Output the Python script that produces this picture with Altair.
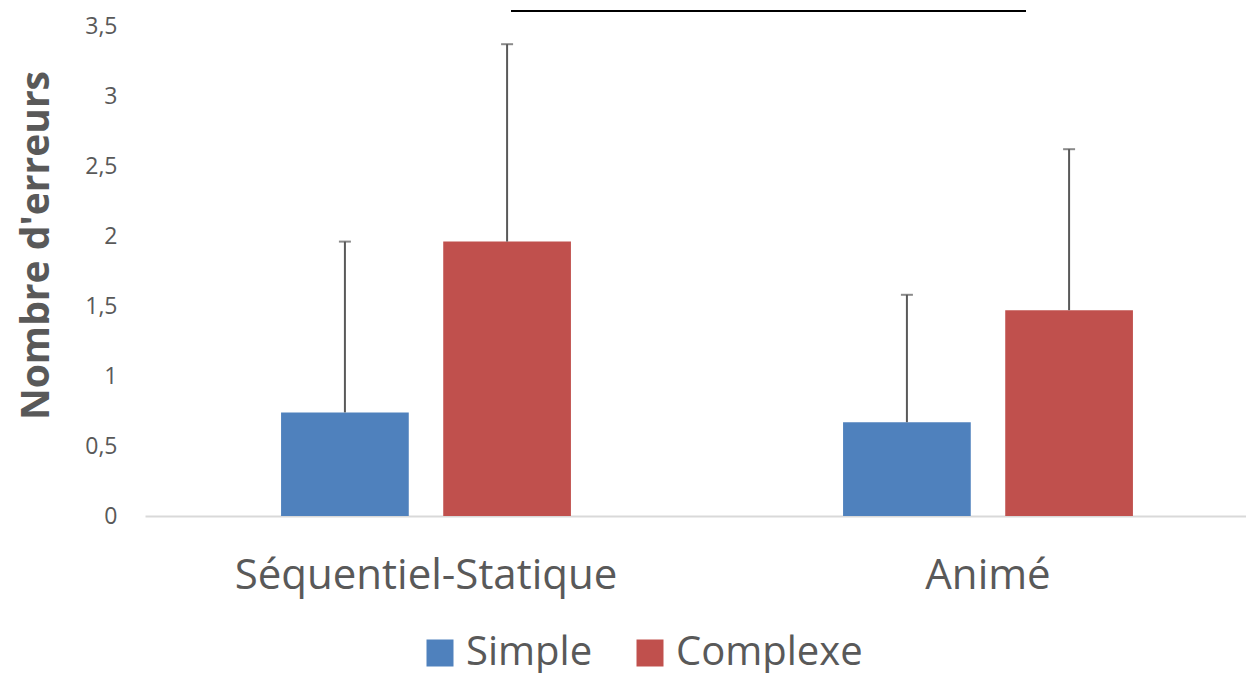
import altair as alt
import pandas as pd

categories = ["Séquentiel-Statique", "Animé"]
series = ["Simple", "Complexe"]
simple_mean = [0.74, 0.67]
complexe_mean = [1.96, 1.47]
simple_err = [1.22, 0.91]
complexe_err = [1.41, 1.15]
y_ticks = [0, 0.5, 1, 1.5, 2, 2.5, 3, 3.5]
sig_level = [3.607]

rows = []
for i, c in enumerate(categories):
    rows.append({"cat": c, "serie": "Simple", "m": simple_mean[i], "hi": simple_mean[i] + simple_err[i]})
    rows.append({"cat": c, "serie": "Complexe", "m": complexe_mean[i], "hi": complexe_mean[i] + complexe_err[i]})
df = pd.DataFrame(rows)

FONT = "Open Sans"
TXT = "#595959"

x = alt.X("cat:N", sort=categories, title=None,
          scale=alt.Scale(range=[0, 1124], paddingInner=0, paddingOuter=0),
          axis=alt.Axis(labelAngle=0, labelFontSize=42, labelFont=FONT, labelColor=TXT,
                        labelPadding=39, labelLimit=0, ticks=False,
                        domainColor="#D9D9D9", domainWidth=2))
xo = alt.XOffset("serie:N", sort=series,
                 scale=alt.Scale(paddingInner=0.2125, paddingOuter=0.839))

base = alt.Chart(df)

bars = base.mark_bar().encode(
    x=x, xOffset=xo,
    y=alt.Y("m:Q", title="Nombre d'erreurs",
            scale=alt.Scale(domain=[0, 3.5], nice=False),
            axis=alt.Axis(values=y_ticks, format=",.1~f", labelFontSize=23, labelFont=FONT,
                          labelColor=TXT, labelPadding=28, ticks=False, domain=False, grid=False,
                          titleFontSize=39, titleFont=FONT, titleFontWeight="bold", titleColor=TXT,
                          titleX=-109, titleY=219, titleAngle=-90, titleBaseline="middle",
                          titleAlign="center")),
    color=alt.Color("serie:N", sort=series,
                    scale=alt.Scale(domain=series, range=["#4F81BD", "#C0504D"]),
                    legend=alt.Legend(title=None, orient="none", direction="horizontal",
                                      legendX=275, legendY=607, symbolType="square",
                                      symbolSize=729, symbolStrokeWidth=0, labelFontSize=40,
                                      labelFont=FONT, labelColor=TXT, labelOffset=6,
                                      columnPadding=37, labelLimit=400)),
)

err = base.mark_rule(color="#595959", strokeWidth=2).encode(
    x=x, xOffset=xo, y="m:Q", y2="hi:Q")
caps = base.mark_tick(color="#595959", thickness=2, size=12, orient="horizontal").encode(
    x=x, xOffset=xo, y="hi:Q")

sig = alt.Chart(pd.DataFrame({"lvl": sig_level})).mark_rule(
    color="black", strokeWidth=2, clip=False).encode(
    y="lvl:Q", x=alt.value(366), x2=alt.value(881))

chart = alt.layer(bars, err, caps, sig).properties(
    width=1101, height=490,
    autosize="none",
    padding={"left": 137, "top": 18, "right": 0, "bottom": 157},
).configure(
    view=alt.ViewConfig(stroke=None),
    locale=alt.Locale(number={"decimal": ",", "thousands": " ", "grouping": [3], "currency": ["", " €"]}),
)

chart.save("out.html", embed_options={"renderer": "svg", "actions": False})
